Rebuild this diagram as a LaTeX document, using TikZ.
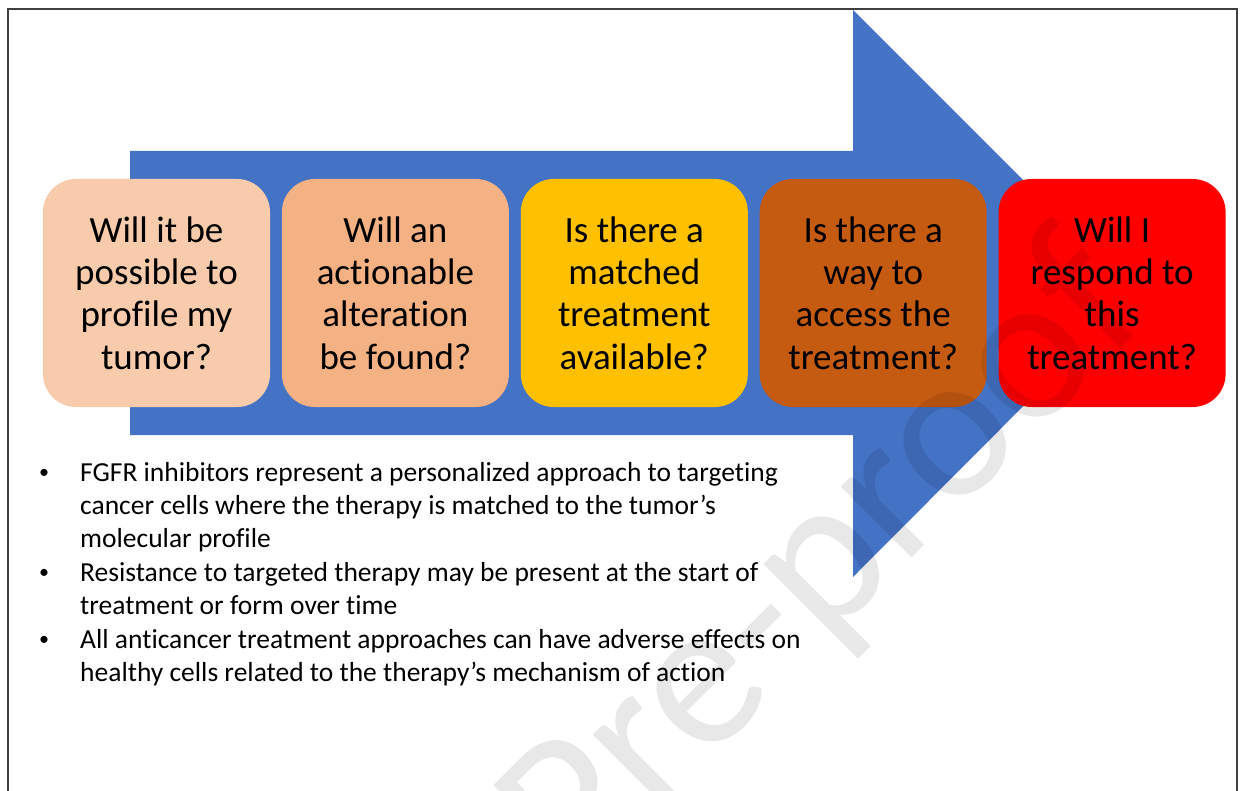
\documentclass[tikz,border=0pt]{standalone}
\usepackage{fontspec}
\setmainfont{Carlito}[Ligatures=NoCommon]
\usepackage{tikz}
\usetikzlibrary{positioning}
\definecolor{arrowblue}{HTML}{4472C4}
\definecolor{peachlight}{HTML}{F8CBAD}
\definecolor{peach}{HTML}{F4B183}
\definecolor{gold}{HTML}{FFC000}
\definecolor{rust}{HTML}{C55A11}
\definecolor{brightred}{HTML}{FF0000}
\tikzset{
    question/.style={fill=#1, rounded corners=33pt, minimum width=227pt, minimum height=228pt,
        inner sep=0pt, align=center, font=\fontsize{37}{42.2}\selectfont},
    bullettext/.style={anchor=base west, inner sep=0pt, font=\fontsize{27.5}{33.3}\selectfont},
    bulletdot/.style={anchor=base, inner sep=0pt, font=\fontsize{20}{24}\selectfont},
    watermark/.style={text=black, text opacity=0.09, inner sep=0pt, font=\fontsize{210}{210}\selectfont},
    frameline/.style={draw=black!75, line width=1.3pt},
}

\begin{document}
\begin{tikzpicture}[x=1pt, y=-1pt]
	\useasboundingbox (0,0) rectangle (1241,791);
	\fill[arrowblue] (130,151) -- (853,151) -- (853,10) -- (1136,293) -- (853,577) -- (853,435) -- (130,435) -- cycle;
	\node[question=peachlight] (profile) at (156.5,293) {Will it be\\possible to\\profile my\\tumor?};
	\node[question=peach, right=11.5pt of profile] (alteration) {Will an\\actionable\\alteration\\be found?};
	\node[question=gold, right=11.5pt of alteration] (matched) {Is there a\\matched\\treatment\\available?};
	\node[question=rust, right=11.5pt of matched] (access) {Is there a\\way to\\access the\\treatment?};
	\node[question=brightred, right=11.5pt of access] (respond) {Will I\\respond to\\this\\treatment?};
	\node[bulletdot] (dot1) at (44,478) {•};
	\node[bulletdot] (dot2) at (44,578) {•};
	\node[bulletdot] (dot3) at (44,645) {•};
	\node[bullettext] (personal) at (80,481) {\parbox[t]{780pt}{FGFR inhibitors represent a personalized approach to targeting\\cancer cells where the therapy is matched to the tumor’s\\molecular profile}};
	\node[bullettext] (resist) at (80,581) {\parbox[t]{780pt}{Resistance to targeted therapy may be present at the start of\\treatment or form over time}};
	\node[bullettext] (adverse) at (80,648) {\parbox[t]{780pt}{All anticancer treatment approaches can have adverse effects on\\healthy cells related to the therapy’s mechanism of action}};
	\draw[frameline] (8,800) -- (8,9) -- (1237,9) -- (1237,800);
\begin{scope}
	\clip (0,0) rectangle (1241,791);
	\node[watermark, rotate=45, anchor=base west] (stamp) at (578,892) {Pre-proof};
\end{scope}
\end{tikzpicture}
\end{document}
